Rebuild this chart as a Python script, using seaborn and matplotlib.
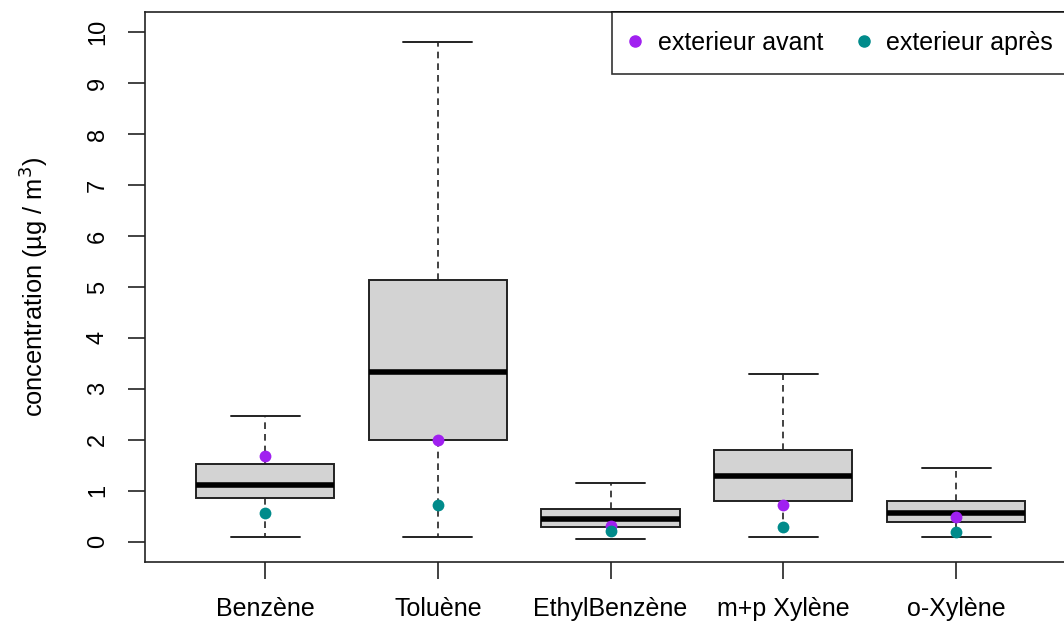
import numpy as np
import pandas as pd
import seaborn as sns
from matplotlib import pyplot as plt
from matplotlib.lines import Line2D

# five-number summaries
categories = ['Benzène', 'Toluène', 'EthylBenzène', 'm+p Xylène', 'o-Xylène']
whisk_low = [0.10, 0.10, 0.06, 0.09, 0.09]
q1 = [0.85, 1.99, 0.29, 0.79, 0.38]
median = [1.12, 3.33, 0.45, 1.28, 0.57]
q3 = [1.52, 5.14, 0.64, 1.80, 0.80]
whisk_high = [2.46, 9.82, 1.15, 3.29, 1.44]

# outdoor measurements
avant = [1.69, 2.00, 0.30, 0.71, 0.48]
apres = [0.57, 0.71, 0.20, 0.28, 0.18]

sns.set_style('ticks')
plt.rcParams['font.family'] = ['Liberation Sans', 'DejaVu Sans']
plt.rcParams['text.color'] = 'black'
plt.rcParams['axes.labelcolor'] = 'black'
plt.rcParams['xtick.color'] = '#222222'
plt.rcParams['ytick.color'] = '#222222'
plt.rcParams['xtick.labelcolor'] = 'black'
plt.rcParams['ytick.labelcolor'] = 'black'

rows = []
for i, cat in enumerate(categories):
    for v in (whisk_low[i], q1[i], median[i], q3[i], whisk_high[i]):
        rows.append({'compose': cat, 'concentration': v})
df = pd.DataFrame(rows)

fig = plt.figure(figsize=(10.64, 6.23), dpi=100)
# the original plot is cut off on the right, so the axes run past the edge
ax = fig.add_axes([145 / 1064, 1 - 562 / 623, 927 / 1064, 550 / 623])

sns.boxplot(data=df, x='compose', y='concentration', order=categories,
            whis=(0, 100), width=0.8, color='#D3D3D3', linecolor='#222222',
            linewidth=1.4, showfliers=False, ax=ax,
            whiskerprops={'linestyle': (0, (4, 3)), 'linewidth': 1.2},
            medianprops={'color': 'black', 'linewidth': 4},
            boxprops={'facecolor': '#D3D3D3'})

pts = pd.DataFrame({'compose': categories, 'avant': avant, 'apres': apres})
sns.stripplot(data=pts, x='compose', y='avant', order=categories, jitter=False,
              color='#A020F0', size=8.5, linewidth=0, ax=ax, zorder=5)
sns.stripplot(data=pts, x='compose', y='apres', order=categories, jitter=False,
              color='#008B8B', size=8.5, linewidth=0, ax=ax, zorder=5)

ax.set_xlim(-0.695, 4.671)
ax.set_ylim(-0.4, 10.4)
ax.set_yticks(range(0, 11))
ax.set_xlabel('')
ax.set_ylabel('concentration (µg / m$^3$)', fontsize=18.3)
ax.yaxis.set_label_coords(-0.101, 0.5)

for s in ax.spines.values():
    s.set_visible(True)
    s.set_color('#222222')
    s.set_linewidth(1.2)

ax.tick_params(axis='y', labelsize=17, length=12, width=1.2, pad=14, labelrotation=90)
ax.tick_params(axis='x', labelsize=18, length=12, width=1.2, pad=13)
for lab in ax.get_yticklabels():
    lab.set_verticalalignment('center')

handles = [Line2D([], [], marker='o', ls='', color='#A020F0', markersize=8),
           Line2D([], [], marker='o', ls='', color='#008B8B', markersize=8)]
leg = ax.legend(handles, ['exterieur avant', 'exterieur après'], ncol=2,
                loc='upper right', borderaxespad=0, fontsize=18, frameon=True,
                fancybox=False, handletextpad=0.75, columnspacing=1.43,
                handlelength=0.34, borderpad=0.75)
leg.get_frame().set_edgecolor('black')
leg.get_frame().set_linewidth(1.2)

fig.savefig('out.png', dpi=100)
